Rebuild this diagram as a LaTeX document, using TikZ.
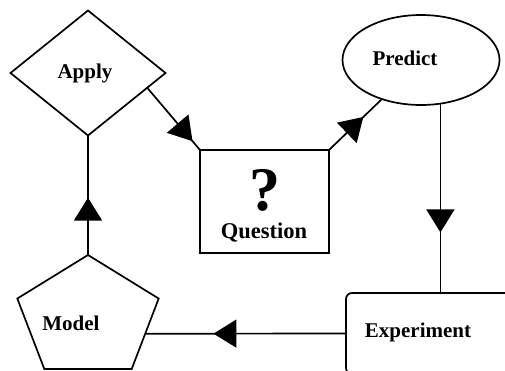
\documentclass[tikz,border=0pt]{standalone}
\usepackage{fontspec}
\setmainfont{Liberation Serif}
\usetikzlibrary{shapes.geometric}
\usetikzlibrary{arrows.meta}
\usetikzlibrary{decorations.markings}
\usetikzlibrary{calc}

\tikzset{
  stagebox/.style={draw, line width=1.7pt, inner sep=0pt, outer sep=0pt},
  lbl/.style={font=\bfseries\fontsize{21}{25}\selectfont, inner sep=0pt, anchor=base},
  flow/.style={line width=1.7pt,
    postaction={decorate, decoration={markings,
      mark=at position #1 with {\arrow{Triangle[length=23pt,width=28pt]}}}}},
}

\begin{document}
\begin{tikzpicture}[x=1pt,y=-1pt]
  \useasboundingbox (0,0) rectangle (505,370);
  \clip (0,0) rectangle (505,370);

  % the five stages
  \node[stagebox, diamond, minimum width=155pt, minimum height=125pt] (apply) at (88,73) {};
  \node[stagebox, rectangle, minimum width=129pt, minimum height=103pt] (question) at (264.5,201.5) {};
  \node[stagebox, ellipse, minimum width=157pt, minimum height=90pt] (predict) at (421,60) {};
  \node[stagebox, rectangle, rounded corners=6pt, minimum width=190pt, minimum height=81pt] (experiment) at (441,333.5) {};
  \node[stagebox, regular polygon, regular polygon sides=5, minimum size=126pt, xscale=1.18] (model) at (88,318) {};

  % texts
  \node[lbl] (applytxt) at (85,78) {Apply};
  \node[lbl] (predicttxt) at (405,65) {Predict};
  \node[lbl] (modeltxt) at (71,330) {Model};
  \node[lbl] (experimenttxt) at (418,337) {Experiment};
  \node[lbl, font=\bfseries\fontsize{22.5}{26}\selectfont] (questiontxt) at (264,238) {Question};
  \node[lbl, font=\bfseries\fontsize{62}{66}\selectfont] (questionmark) at (265,210) {?};

  % the cycle
  \draw[flow=0.86] (apply.-14) -- (question.north west);
  \draw[flow=0.65] (question.north east) -- (predict.-135);
  \draw[flow=0.68] (predict.-66) -- (predict.-66 |- experiment.north);
  \draw[flow=0.66] (experiment.west) -- (model.side 4);
  \draw[flow=0.48] (model.corner 1) -- (apply.south);

\end{tikzpicture}
\end{document}
